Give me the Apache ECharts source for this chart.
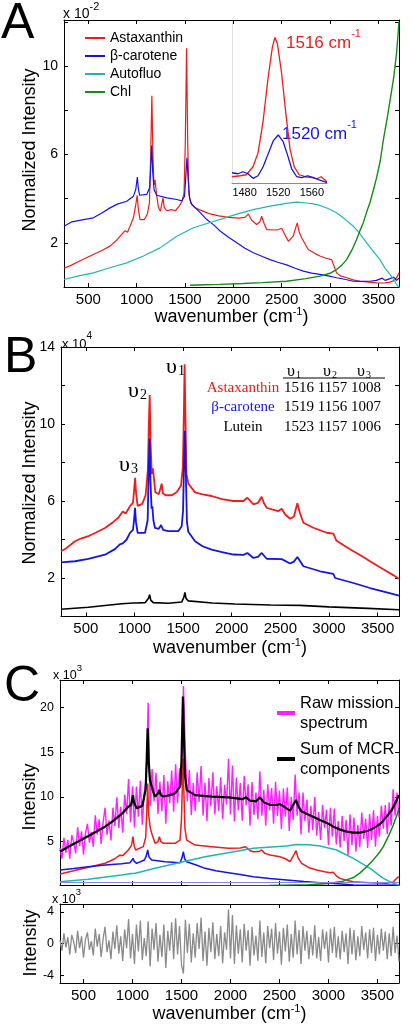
<!DOCTYPE html>
<html><head><meta charset="utf-8">
<script src="https://cdn.jsdelivr.net/npm/echarts@6/dist/echarts.min.js"></script>
<style>html,body{margin:0;padding:0;background:#fff}#c{width:412px;height:1030px}</style>
</head><body><div id="c"></div>
<script>
// ---------- DATA ----------
const xTicks = [500,1000,1500,2000,2500,3000,3500];
const yTicksA = [0,2,4,6,8,10,12], yLabelsA = [2,6,10];
const yTicksB = [2,4,6,8,10,12,14], yLabelsB = [2,6,10,14];
const yTicksC = [5,10,15,20];
const yTicksR = [-4,0,4];
const insetTicks = [1480,1520,1560];

// Panel A (x 10^-2)
const astaA = [[248,0.85],[320,0.98],[400,1.15],[480,1.32],[552,1.47],[640,1.65],[724,1.85],[800,2.15],[845,2.38],[880,2.55],[905,2.48],[931,2.75],[966,3.13],[990,3.7],[1005,4.15],[1018,3.5],[1035,3.05],[1080,3.05],[1110,3.3],[1132,3.8],[1145,6.0],[1157,8.65],[1168,6.0],[1178,4.6],[1190,4.85],[1205,4.2],[1225,3.6],[1245,3.43],[1262,3.8],[1272,4.03],[1285,3.6],[1310,3.45],[1360,3.5],[1400,3.45],[1440,3.66],[1470,3.88],[1490,4.26],[1503,6.5],[1516,10.8],[1528,6.5],[1540,4.2],[1560,3.8],[1600,3.6],[1660,3.48],[1750,3.32],[1850,3.22],[1950,3.15],[2050,3.12],[2120,3.15],[2155,3.3],[2190,3.02],[2241,2.83],[2275,2.95],[2293,3.2],[2320,2.85],[2345,2.6],[2420,2.58],[2465,2.6],[2500,2.66],[2530,2.4],[2569,2.07],[2620,2.3],[2650,2.75],[2662,2.9],[2680,2.5],[2706,2.23],[2775,1.7],[2850,1.5],[2896,1.4],[2960,1.3],[3017,1.24],[3034,1.27],[3068,0.64],[3110,0.5],[3172,0.42],[3240,0.32],[3310,0.26],[3400,0.22],[3482,0.19],[3560,0.18],[3620,0.22],[3670,0.3],[3700,0.5],[3714,0.65]];
const betaA = [[248,2.75],[330,2.95],[450,3.05],[552,3.13],[640,3.35],[724,3.58],[800,3.75],[897,3.88],[966,4.11],[990,4.4],[1007,4.97],[1016,4.5],[1030,4.15],[1104,4.19],[1135,4.5],[1147,5.6],[1156,6.4],[1166,5.2],[1180,4.4],[1208,4.15],[1311,4.03],[1415,3.96],[1466,3.9],[1495,4.1],[1508,5.0],[1520,5.85],[1532,4.9],[1548,4.0],[1570,3.73],[1650,3.4],[1725,3.05],[1800,2.8],[1863,2.53],[1950,2.25],[2036,2.0],[2120,1.75],[2207,1.55],[2300,1.38],[2379,1.24],[2460,1.12],[2551,1.0],[2640,0.85],[2724,0.72],[2810,0.63],[2896,0.57],[2980,0.5],[3068,0.42],[3150,0.35],[3241,0.26],[3330,0.25],[3413,0.26],[3480,0.3],[3540,0.4],[3570,0.3],[3620,0.38],[3660,0.45],[3690,0.3],[3714,0.4]];
const autoA = [[248,0.34],[400,0.5],[552,0.64],[724,0.87],[897,1.09],[1070,1.4],[1242,1.77],[1415,2.3],[1587,2.68],[1760,2.92],[1932,3.15],[2034,3.3],[2207,3.5],[2379,3.66],[2551,3.78],[2655,3.84],[2760,3.8],[2827,3.76],[2896,3.69],[2980,3.55],[3068,3.36],[3160,3.05],[3241,2.75],[3310,2.4],[3379,2.0],[3450,1.6],[3517,1.24],[3570,0.85],[3620,0.57],[3660,0.35],[3689,0.11],[3714,0.0]];
const chlA = [[1552,0.08],[1700,0.1],[1862,0.12],[2100,0.16],[2300,0.2],[2551,0.26],[2750,0.38],[2896,0.49],[3000,0.62],[3068,0.79],[3120,0.98],[3172,1.24],[3230,1.7],[3275,2.15],[3310,2.55],[3344,2.9],[3380,3.4],[3413,3.81],[3450,4.4],[3482,4.95],[3520,5.7],[3550,6.6],[3590,7.6],[3620,8.4],[3660,9.5],[3689,10.6],[3714,12.0]];
// Inset (zoom on the v1 band)
const astaInset = [[1465,3.8],[1475,3.85],[1482,3.9],[1490,4.3],[1496,5.0],[1502,6.6],[1508,8.8],[1513,10.3],[1516,10.8],[1519,10.5],[1524,9.0],[1529,7.0],[1534,5.2],[1539,4.3],[1545,3.9],[1552,3.8],[1560,3.75],[1566,3.7],[1571,3.8],[1578,3.55]];
const betaInset = [[1465,4.0],[1472,3.95],[1478,4.05],[1484,3.95],[1490,3.72],[1496,3.85],[1502,4.3],[1508,4.95],[1514,5.6],[1520,5.9],[1526,5.55],[1531,4.9],[1536,4.2],[1542,3.8],[1548,3.75],[1555,3.85],[1562,3.75],[1568,3.65],[1578,3.5]];

// Panel B (x 10^4)
const astaB = [[245,3.39],[300,3.55],[389,3.91],[450,4.05],[526,4.17],[600,4.35],[697,4.6],[780,4.9],[834,5.13],[880,5.45],[910,5.35],[954,5.73],[985,5.9],[997,6.6],[1007,7.2],[1017,6.4],[1033,5.75],[1081,5.85],[1115,6.3],[1138,7.6],[1148,10.0],[1157,11.5],[1166,9.0],[1178,7.4],[1190,7.7],[1200,7.2],[1215,6.45],[1250,6.35],[1270,6.7],[1280,6.9],[1292,6.4],[1320,6.3],[1383,6.3],[1434,6.45],[1479,6.8],[1498,7.8],[1508,10.5],[1516,13.1],[1524,10.5],[1535,7.4],[1555,6.9],[1623,6.45],[1700,6.35],[1794,6.26],[1900,6.1],[2017,6.0],[2120,6.0],[2161,6.17],[2200,5.95],[2223,5.82],[2270,5.9],[2308,6.22],[2330,5.9],[2360,5.65],[2420,5.55],[2480,5.48],[2514,5.6],[2550,5.3],[2600,5.08],[2640,5.2],[2675,5.88],[2700,5.4],[2737,4.87],[2840,4.61],[2977,4.35],[3045,4.3],[3075,3.95],[3150,3.7],[3251,3.39],[3340,3.13],[3422,2.87],[3510,2.6],[3593,2.35],[3660,2.15],[3720,1.95]];
const betaB = [[245,2.81],[389,2.87],[526,2.99],[697,3.21],[800,3.5],[850,3.75],[880,3.8],[920,4.0],[954,4.34],[985,4.5],[996,5.0],[1006,5.65],[1016,4.9],[1033,4.34],[1109,4.35],[1136,5.0],[1146,7.5],[1156,9.25],[1165,7.0],[1176,5.6],[1184,5.73],[1195,5.0],[1211,4.6],[1250,4.55],[1273,4.75],[1295,4.5],[1348,4.43],[1451,4.43],[1486,4.69],[1500,5.5],[1510,8.0],[1519,9.65],[1528,7.5],[1540,4.9],[1554,4.4],[1623,3.91],[1700,3.65],[1794,3.47],[1900,3.35],[2017,3.22],[2120,3.2],[2161,3.3],[2223,3.04],[2270,3.1],[2308,3.3],[2360,3.0],[2514,2.98],[2600,2.75],[2640,2.85],[2675,3.09],[2737,2.61],[2908,2.35],[3045,2.22],[3063,2.0],[3251,1.74],[3422,1.48],[3593,1.25],[3720,1.08]];
const luteinB = [[245,0.38],[526,0.48],[869,0.66],[990,0.7],[1006,0.8],[1020,0.7],[1109,0.72],[1145,0.95],[1156,1.13],[1168,0.85],[1194,0.72],[1348,0.69],[1486,0.75],[1508,1.0],[1519,1.25],[1530,0.95],[1554,0.81],[1800,0.7],[2034,0.65],[2400,0.6],[2700,0.58],[3000,0.5],[3400,0.42],[3720,0.35]];
const tableNames = ['Astaxanthin','β-carotene','Lutein'];
const nu1 = [1516,1519,1523], nu2 = [1157,1156,1157], nu3 = [1008,1007,1006];

// Panel C (x 10^3)
const cWave = [260,280,300,320,340,360,380,400,420,440,
460,480,500,520,540,560,580,600,620,640,
660,680,700,720,740,760,780,800,820,840,
860,880,900,920,940,960,980,1000,1020,1040,
1060,1080,1100,1120,1140,1160,1180,1200,1220,1240,
1260,1280,1300,1320,1340,1360,1380,1400,1420,1440,
1460,1480,1500,1520,1540,1560,1580,1600,1620,1640,
1660,1680,1700,1720,1740,1760,1780,1800,1820,1840,
1860,1880,1900,1920,1940,1960,1980,2000,2020,2040,
2060,2080,2100,2120,2140,2160,2180,2200,2220,2240,
2260,2280,2300,2320,2340,2360,2380,2400,2420,2440,
2460,2480,2500,2520,2540,2560,2580,2600,2620,2640,
2660,2680,2700,2720,2740,2760,2780,2800,2820,2840,
2860,2880,2900,2920,2940,2960,2980,3000,3020,3040,
3060,3080,3100,3120,3140,3160,3180,3200,3220,3240,
3260,3280,3300,3320,3340,3360,3380,3400,3420,3440,
3460,3480,3500,3520,3540,3560,3580,3600,3620,3640,
3660,3680,3700,3720];
const rawC = [4.3,3.1,5.45,3.75,5.2,3.1,5.73,4.95,3.7,6.6,
4.5,6.15,3.55,5.95,7.0,4.9,6.1,4.45,7.95,5.8,
7.5,4.75,7.15,8.8,5.75,7.4,5.15,8.8,6.75,9.95,
6.55,8.9,6.0,10.25,8.1,12.0,7.15,11.2,6.6,11.15,
7.8,11.8,6.9,10.5,12.0,20.5,9.0,13.1,9.5,12.7,
8.1,11.7,8.4,12.45,7.0,11.75,9.3,12.95,8.35,13.65,
9.3,13.2,11.3,22.4,14.8,9.5,13.0,7.95,11.55,8.4,
12.75,9.45,13.45,7.9,11.6,7.3,12.1,8.95,12.75,8.05,
11.2,8.4,12.2,7.5,11.35,9.15,14.25,8.05,13.5,7.25,
12.15,8.5,11.55,7.35,12.35,9.05,11.4,6.8,11.65,8.0,
10.5,7.5,12.85,7.9,10.8,6.8,11.4,8.5,11.0,7.0,
11.7,7.85,10.7,6.4,10.95,7.8,11.05,6.2,10.0,7.4,
12.5,7.9,10.5,5.8,10.5,7.3,9.7,6.0,9.0,6.3,
10.0,5.7,8.3,5.2,9.1,6.5,8.6,4.6,8.8,5.55,
8.7,4.7,7.3,4.35,7.9,5.1,7.45,3.5,8.05,4.6,
7.7,3.9,6.9,4.4,8.25,5.3,7.55,4.3,8.1,5.2,
8.5,4.45,7.9,5.55,9.05,6.45,9.1,5.85,9.4,6.8,
10.85,7.9,10.5,7.7];
const residC = [0.4,-0.9,1.3,-0.5,0.8,-1.4,1.1,0.2,-1.2,1.6,
-0.6,0.9,-1.8,0.5,1.4,-0.8,0.3,-1.5,1.9,-0.4,
1.2,-1.7,0.6,2.1,-1.1,0.4,-2.0,1.5,-0.7,2.3,
-1.3,0.9,-2.2,1.8,-0.6,3.1,-1.9,1.2,-2.6,2.4,
-1.0,2.9,-2.1,0.7,-1.6,2.8,-2.9,1.9,-0.8,2.6,
-2.3,1.1,-1.7,2.4,-3.1,1.6,-0.9,2.7,-2.0,3.2,
-1.4,2.2,-2.7,-3.8,3.0,-1.2,2.5,-2.4,1.3,-1.8,
2.6,-0.7,3.3,-2.2,1.5,-2.8,2.0,-1.1,2.7,-2.0,
1.2,-1.6,2.2,-2.5,1.4,-0.8,4.3,-1.9,3.6,-2.6,
2.3,-1.3,1.8,-2.4,2.5,-0.9,1.7,-2.8,2.1,-1.5,
1.0,-2.2,2.9,-1.7,1.4,-2.5,2.2,-0.6,1.9,-2.1,
2.6,-1.3,1.5,-2.7,2.0,-1.0,2.4,-2.3,1.2,-1.8,
2.9,-1.4,1.7,-2.6,2.2,-0.9,1.6,-2.0,1.1,-1.5,
2.3,-1.9,0.8,-2.2,1.8,-0.7,1.5,-2.4,1.9,-1.2,
2.1,-1.8,0.9,-2.0,1.6,-1.1,1.3,-2.6,2.0,-1.4,
1.7,-2.1,0.9,-1.6,2.2,-0.8,1.4,-1.9,1.8,-1.2,
2.0,-2.2,1.1,-1.4,1.9,-0.9,1.5,-2.0,1.3,-1.6,
2.1,-1.2,1.0,-2.3];
const sumC = [[260,3.9],[379,4.63],[549,5.64],[719,6.68],[800,7.3],[855,7.8],[900,8.2],[957,8.91],[985,9.1],[995,9.6],[1005,10.2],[1015,9.4],[1042,8.73],[1100,9.0],[1134,10.8],[1146,14.5],[1155,17.66],[1165,14.0],[1178,11.9],[1190,11.7],[1210,10.6],[1230,10.03],[1260,10.4],[1274,10.77],[1290,10.2],[1315,10.05],[1380,10.2],[1434,10.4],[1485,11.15],[1500,14.0],[1508,18.0],[1515,21.2],[1524,17.0],[1535,12.5],[1553,10.77],[1638,10.2],[1808,10.03],[1978,9.95],[2063,9.84],[2120,9.75],[2160,9.95],[2199,9.58],[2260,9.5],[2301,9.95],[2340,9.4],[2403,9.1],[2470,9.1],[2505,9.21],[2560,8.8],[2607,8.47],[2650,9.3],[2669,9.66],[2690,9.0],[2726,8.36],[2820,7.9],[2914,7.42],[3000,7.0],[3050,6.68],[3120,6.35],[3186,6.12],[3250,6.02],[3322,6.01],[3400,6.2],[3458,6.49],[3530,7.0],[3594,7.8],[3650,8.6],[3696,9.66],[3720,10.2]];
const astaC = [[260,1.4],[400,1.75],[550,2.15],[720,2.6],[820,3.1],[870,3.5],[900,3.45],[957,4.08],[990,4.6],[1005,5.56],[1018,4.5],[1032,4.08],[1110,4.45],[1135,5.5],[1146,8.5],[1155,11.5],[1165,8.0],[1182,6.5],[1200,5.8],[1230,4.82],[1260,5.0],[1274,5.56],[1290,5.0],[1315,4.82],[1434,4.82],[1485,5.19],[1500,7.5],[1508,11.0],[1515,14.3],[1523,11.0],[1535,6.5],[1553,5.19],[1638,4.63],[1808,4.45],[1978,4.26],[2100,4.3],[2150,4.45],[2200,4.0],[2233,3.89],[2290,3.9],[2318,4.08],[2350,3.7],[2403,3.52],[2505,3.33],[2560,3.1],[2607,2.77],[2650,3.6],[2669,4.0],[2690,3.2],[2726,2.59],[2800,2.1],[2880,1.84],[2960,1.65],[3016,1.55],[3050,1.58],[3080,1.2],[3118,0.91],[3180,0.7],[3254,0.54],[3424,0.43],[3594,0.36],[3660,0.5],[3696,0.91],[3720,1.1]];
const betaC = [[260,1.85],[400,2.0],[549,2.2],[720,2.4],[889,2.55],[974,2.65],[992,2.9],[1005,3.15],[1018,2.8],[1042,2.59],[1121,2.96],[1140,3.4],[1155,4.08],[1168,3.3],[1196,2.96],[1332,2.77],[1485,2.66],[1505,3.2],[1519,3.89],[1532,3.1],[1553,2.77],[1650,2.4],[1740,2.03],[1850,1.75],[1978,1.55],[2100,1.35],[2233,1.1],[2400,0.9],[2573,0.73],[2750,0.55],[2914,0.43],[3100,0.3],[3254,0.17],[3500,0.15],[3720,0.17]];
const autoC = [[260,0.54],[549,0.8],[889,1.29],[990,1.45],[1005,1.6],[1020,1.45],[1230,2.03],[1519,2.77],[1740,3.33],[1978,3.78],[2233,4.26],[2573,4.52],[2669,4.7],[2800,4.65],[2914,4.52],[3084,4.08],[3254,3.15],[3424,2.03],[3560,0.91],[3662,0.36],[3720,0.15]];
const chlC = [[1567,0.05],[2000,0.08],[2400,0.12],[2800,0.2],[3000,0.35],[3150,0.6],[3254,1.0],[3320,1.5],[3390,2.2],[3460,3.0],[3520,3.8],[3560,4.45],[3620,5.8],[3662,6.87],[3700,8.0],[3720,8.7]];
const baseC = 0.5;

// ---------- STYLE ----------
const FONT = '"Liberation Sans", Arial, sans-serif';
const SERIF = '"Liberation Serif", "Times New Roman", serif';
const RED = '#ee1c1c', BLUE = '#1414e6', CYAN = '#22b5b5', GREEN = '#178a17', MAG = '#ff20ff';
const plain = v => String(v);

const G = [
  {left:64, top:20, width:335, height:267},     // A
  {left:232, top:20, width:95, height:163.3},   // A inset
  {left:61, top:347, width:338, height:269.5},  // B
  {left:60, top:680, width:339, height:205},    // C
  {left:60, top:904, width:339, height:79}      // residual
].map(g => Object.assign({show:false, outerBoundsMode:'none', containLabel:false}, g));

const nameRich = {s:{fontSize:11, fontFamily:FONT, color:'#000', verticalAlign:'top', lineHeight:22}};
function xPair(grid, min, max, labels, gap) {
  const base = {type:'value', gridIndex:grid, min:min, max:max, splitLine:{show:false},
    axisLine:{show:true, onZero:false, lineStyle:{color:'#000', width:1}},
    axisTick:{show:true, inside:true, length:4, customValues:xTicks, lineStyle:{color:'#000'}}};
  const bottom = Object.assign({}, base, {position:'bottom',
    axisLabel:{show:labels, customValues:xTicks, formatter:plain, fontSize:15, fontFamily:FONT, color:'#000', margin:5}});
  if (gap) Object.assign(bottom, {name:'wavenumber (cm{s|-1})', nameLocation:'middle', nameGap:gap, nameMoveOverlap:false,
    nameTextStyle:{fontSize:18, fontFamily:FONT, color:'#000', lineHeight:22, rich:nameRich}});
  const top = Object.assign({}, base, {position:'top', axisLabel:{show:false}});
  return [bottom, top];
}
function yPair(grid, min, max, ticks, labels, fs) {
  const base = {type:'value', gridIndex:grid, min:min, max:max, splitLine:{show:false},
    axisLine:{show:true, onZero:false, lineStyle:{color:'#000', width:1}},
    axisTick:{show:true, inside:true, length:4, customValues:ticks, lineStyle:{color:'#000'}}};
  const left = Object.assign({}, base, {position:'left',
    axisLabel:{show:true, customValues:labels, formatter:plain, fontSize:fs, fontFamily:FONT, color:'#000', margin:6}});
  const right = Object.assign({}, base, {position:'right', axisLabel:{show:false}});
  return [left, right];
}

const xAxes = [
  ...xPair(0, 248, 3714, true, 19),
  {type:'value', gridIndex:1, min:1465, max:1578, position:'bottom', splitLine:{show:false},
   axisLine:{show:true, onZero:false, lineStyle:{color:'#8a8a8a', width:1}}, axisTick:{show:false},
   axisLabel:{customValues:insetTicks, formatter:plain, fontSize:11, fontFamily:FONT, color:'#000', margin:4}},
  ...xPair(2, 245, 3720, true, 21),
  ...xPair(3, 260, 3720, false, 0),
  ...xPair(4, 260, 3720, true, 20)
];
const yAxes = [
  ...yPair(0, 0, 12.08, yTicksA, yLabelsA, 14),
  {type:'value', gridIndex:1, min:3.47, max:11.68, splitLine:{show:false},
   axisLine:{show:true, onZero:false, lineStyle:{color:'#e2e2e2', width:1}}, axisTick:{show:false}, axisLabel:{show:false}},
  ...yPair(2, 0, 14, yTicksB, yLabelsB, 14),
  ...yPair(3, 0.17, 23.05, yTicksC, yTicksC, 12.5),
  ...yPair(4, -5, 5, yTicksR, yTicksR, 12.5)
];

function line(name, data, xi, yi, color, width, extra) {
  return Object.assign({type:'line', name:name, data:data, xAxisIndex:xi, yAxisIndex:yi,
    symbol:'none', showSymbol:false, silent:true, animation:false, clip:true,
    lineStyle:{color:color, width:width}, itemStyle:{color:color}}, extra || {});
}
const rawPairs = cWave.map((w, i) => [w, rawC[i]]);
const residPairs = cWave.map((w, i) => [w, residC[i]]);

const series = [
  line('Astaxanthin', astaA, 0, 0, RED, 1.2),
  line('β-carotene', betaA, 0, 0, BLUE, 1.2),
  line('Autofluo', autoA, 0, 0, CYAN, 1.2),
  line('Chl', chlA, 0, 0, GREEN, 1.4),
  line('Astaxanthin inset', astaInset, 2, 2, RED, 1.3),
  line('β-carotene inset', betaInset, 2, 2, BLUE, 1.3),
  line('Astaxanthin B', astaB, 3, 3, RED, 1.8),
  line('β-carotene B', betaB, 3, 3, BLUE, 1.8),
  line('Lutein B', luteinB, 3, 3, '#000', 1.6),
  line('Raw mission\nspectrum', rawPairs, 5, 5, MAG, 1.4),
  line('Astaxanthin C', astaC, 5, 5, RED, 1.5),
  line('β-carotene C', betaC, 5, 5, BLUE, 1.5),
  line('Autofluo C', autoC, 5, 5, CYAN, 1.5, {markLine:{silent:true, symbol:'none', animation:false, label:{show:false},
      lineStyle:{color:'#8686e0', width:1, type:'solid'}, data:[{yAxis:baseC}]}}),
  line('Chl C', chlC, 5, 5, GREEN, 1.5),
  line('Sum of MCR\ncomponents', sumC, 5, 5, '#000', 2.2),
  line('Residual', residPairs, 7, 7, '#8a8a8a', 1.3)
];

const supRich = (fs) => ({b:{fontSize:fs, fontFamily:FONT, fill:'#000', lineHeight:fs+6, verticalAlign:'bottom'},
                          s:{fontSize:fs-3, fontFamily:FONT, fill:'#000', verticalAlign:'top', lineHeight:fs+6}});
function txt(x, y, text, font, fill, align, extra) {
  return Object.assign({type:'text', x:x, y:y, silent:true,
    style:{text:text, font:font, fill:fill, align:align||'left', verticalAlign:'middle'}}, extra||{});
}
function richTxt(x, y, text, rich, align) {
  return {type:'text', x:x, y:y, silent:true, style:{text:text, rich:rich, align:align||'left', verticalAlign:'middle'}};
}
const nuRich = (fs, color) => ({u:{fontSize:fs, fontFamily:SERIF, fill:color||'#000'}, d:{fontSize:Math.round(fs*0.62), fontFamily:SERIF, fill:color||'#000', verticalAlign:'bottom', padding:[0,0,0,1]}});

const graphics = [
  txt(1, 24, 'A', '50px ' + FONT, '#000'),
  txt(4, 358, 'B', '50px ' + FONT, '#000'),
  txt(4, 687, 'C', '50px ' + FONT, '#000'),
  richTxt(63, 11, '{b|x 10}{s|-2}', supRich(14)),
  richTxt(62, 341, '{b|x 10}{s|4}', supRich(13)),
  richTxt(53, 673, '{b|x 10}{s|3}', supRich(12.5)),
  richTxt(52, 897, '{b|x 10}{s|3}', supRich(12.5)),
  txt(30, 150, 'Normalized Intensity', '18px ' + FONT, '#000', 'center', {rotation:Math.PI/2}),
  txt(30, 483, 'Normalized Intensity', '18px ' + FONT, '#000', 'center', {rotation:Math.PI/2}),
  txt(30, 797, 'Intensity', '18px ' + FONT, '#000', 'center', {rotation:Math.PI/2}),
  txt(31, 943, 'Intensity', '18px ' + FONT, '#000', 'center', {rotation:Math.PI/2}),
  richTxt(286, 40, '{b|1516 cm}{s|-1}', {b:{fontSize:17, fontFamily:FONT, fill:RED, lineHeight:24, verticalAlign:'bottom'}, s:{fontSize:11, fontFamily:FONT, fill:RED, verticalAlign:'top', lineHeight:24}}),
  richTxt(282, 131, '{b|1520 cm}{s|-1}', {b:{fontSize:17, fontFamily:FONT, fill:BLUE, lineHeight:24, verticalAlign:'bottom'}, s:{fontSize:11, fontFamily:FONT, fill:BLUE, verticalAlign:'top', lineHeight:24}}),
  richTxt(166, 367, '{u|υ}{d|1}', nuRich(22)),
  richTxt(128, 391, '{u|υ}{d|2}', nuRich(22)),
  richTxt(119, 465, '{u|υ}{d|3}', nuRich(22)),
  richTxt(294, 372, '{u|υ}{d|1}', nuRich(16), 'center'),
  richTxt(330, 372, '{u|υ}{d|2}', nuRich(16), 'center'),
  richTxt(364, 372, '{u|υ}{d|3}', nuRich(16), 'center'),
  {type:'line', silent:true, shape:{x1:283, y1:378, x2:385, y2:378}, style:{stroke:'#000', lineWidth:1}}
];
const rowY = [388, 407.5, 427], rowColors = [RED, BLUE, '#000'];
tableNames.forEach((n, i) => {
  graphics.push(txt(243, rowY[i], n, '15px ' + SERIF, rowColors[i], 'center'));
  graphics.push(txt(284, rowY[i], nu1[i] + ' ' + nu2[i] + ' ' + nu3[i], '15px ' + SERIF, '#000', 'left'));
});

const option = {
  animation:false,
  backgroundColor:'#fff',
  textStyle:{fontFamily:FONT},
  grid:G,
  xAxis:xAxes,
  yAxis:yAxes,
  legend:[
    {left:80, top:26, orient:'vertical', itemWidth:20, itemHeight:2, itemGap:4, icon:'rect',
     data:['Astaxanthin','β-carotene','Autofluo','Chl'], selectedMode:false,
     textStyle:{fontSize:14, fontFamily:FONT, color:'#000', lineHeight:14}},
    {left:272, top:688, orient:'vertical', itemWidth:18, itemHeight:4, itemGap:6, icon:'rect',
     data:['Raw mission\nspectrum','Sum of MCR\ncomponents'], selectedMode:false,
     textStyle:{fontSize:16.5, fontFamily:FONT, color:'#000', lineHeight:20}}
  ],
  series:series,
  graphic:graphics
};
const chart = echarts.init(document.getElementById('c'), null, {renderer:'canvas'});
chart.setOption(option);
</script></body></html>
